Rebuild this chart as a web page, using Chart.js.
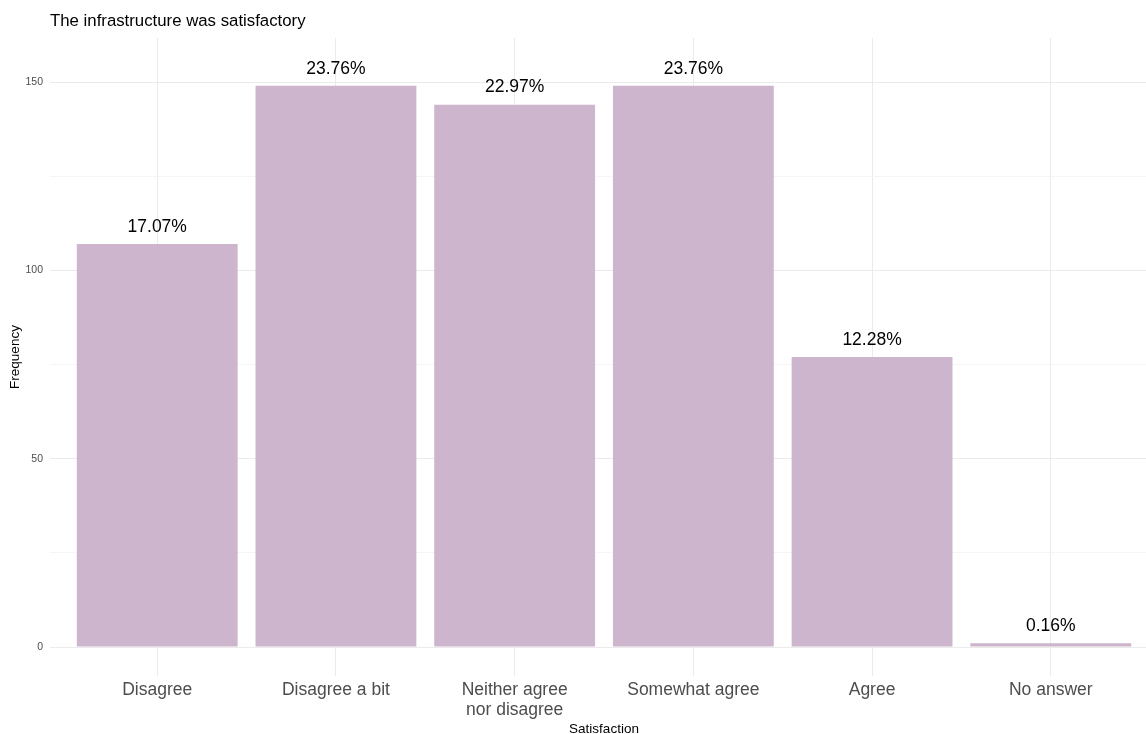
<!DOCTYPE html>
<html>
<head>
<meta charset="utf-8">
<script src="https://cdn.jsdelivr.net/npm/chart.js@4"></script>
<style>
  html, body { margin: 0; padding: 0; background: #fff; overflow: hidden; }
  #wrap { width: 1158px; height: 734px; }
</style>
</head>
<body>
<div id="wrap"><canvas id="barChart"></canvas></div>
<script>
const categories = ["Disagree", "Disagree a bit", ["Neither agree", "nor disagree"], "Somewhat agree", "Agree", "No answer"];
const counts = [107, 149, 144, 149, 77, 1];
const percentLabels = ["17.07%", "23.76%", "22.97%", "23.76%", "12.28%", "0.16%"];
const yTicks = [0, 25, 50, 75, 100, 125, 150];

const FONT = "'Liberation Sans', Arial, sans-serif";
const ctx = document.getElementById("barChart").getContext("2d");

const textPlugin = {
  id: "textPlugin",
  afterDatasetsDraw(chart) {
    const c = chart.ctx;
    const yScale = chart.scales.y;
    const meta = chart.getDatasetMeta(0);
    c.save();
    c.fillStyle = "#000";
    c.font = "17.5px " + FONT;
    c.textAlign = "center";
    c.textBaseline = "middle";
    meta.data.forEach((bar, i) => {
      c.fillText(percentLabels[i], bar.x, yScale.getPixelForValue(counts[i]) - 17);
    });
    c.restore();
  },
  afterDraw(chart) {
    const c = chart.ctx;
    const area = chart.chartArea;
    c.save();
    c.fillStyle = "#000";
    c.font = "16.8px " + FONT;
    c.textAlign = "left";
    c.textBaseline = "middle";
    c.fillText("The infrastructure was satisfactory", 50, 21);

    c.font = "13.5px " + FONT;
    c.textAlign = "center";
    c.fillText("Satisfaction", (area.left + area.right) / 2, 729);

    c.translate(15, (area.top + area.bottom) / 2);
    c.rotate(-Math.PI / 2);
    c.fillText("Frequency", 0, 0);
    c.restore();
  },
};

new Chart(ctx, {
  type: "bar",
  data: {
    datasets: [
      {
        data: counts.map((v, i) => ({ x: i + 1, y: v })),
        backgroundColor: "#cdb5cd",
        borderWidth: 0,
        barPercentage: 0.9,
        categoryPercentage: 1,
      },
    ],
  },
  options: {
    responsive: true,
    maintainAspectRatio: false,
    animation: false,
    layout: { padding: { top: 38, right: 0, left: 0, bottom: 0 } },
    plugins: {
      legend: { display: false },
      tooltip: { enabled: false },
      title: { display: false },
    },
    scales: {
      x: {
        type: "linear",
        min: 0.4,
        max: 6.6,
        offset: false,
        afterBuildTicks: (scale) => {
          scale.ticks = categories.map((_, i) => ({ value: i + 1 }));
        },
        afterFit: (scale) => {
          scale.height = 58;
        },
        border: { display: false },
        grid: { color: "#ebebeb", lineWidth: 1, drawTicks: false, offset: false },
        ticks: {
          autoSkip: false,
          maxRotation: 0,
          padding: 4,
          color: "#4d4d4d",
          font: { family: FONT, size: 17.5, lineHeight: 1.15 },
          callback: (v) => categories[v - 1],
        },
      },
      y: {
        min: -7.7,
        max: 161.7,
        afterBuildTicks: (scale) => {
          scale.ticks = yTicks.map((v) => ({ value: v }));
        },
        afterFit: (scale) => {
          scale.width = 50;
        },
        border: { display: false },
        grid: {
          drawTicks: false,
          lineWidth: 1,
          color: (c) => (c.tick && c.tick.value % 50 === 0 ? "#ebebeb" : "#f5f5f5"),
        },
        ticks: {
          padding: 7,
          color: "#4d4d4d",
          font: { family: FONT, size: 10.5 },
          callback: (v) => (v % 50 === 0 ? String(v) : ""),
        },
      },
    },
  },
  plugins: [textPlugin],
});
</script>
</body>
</html>
